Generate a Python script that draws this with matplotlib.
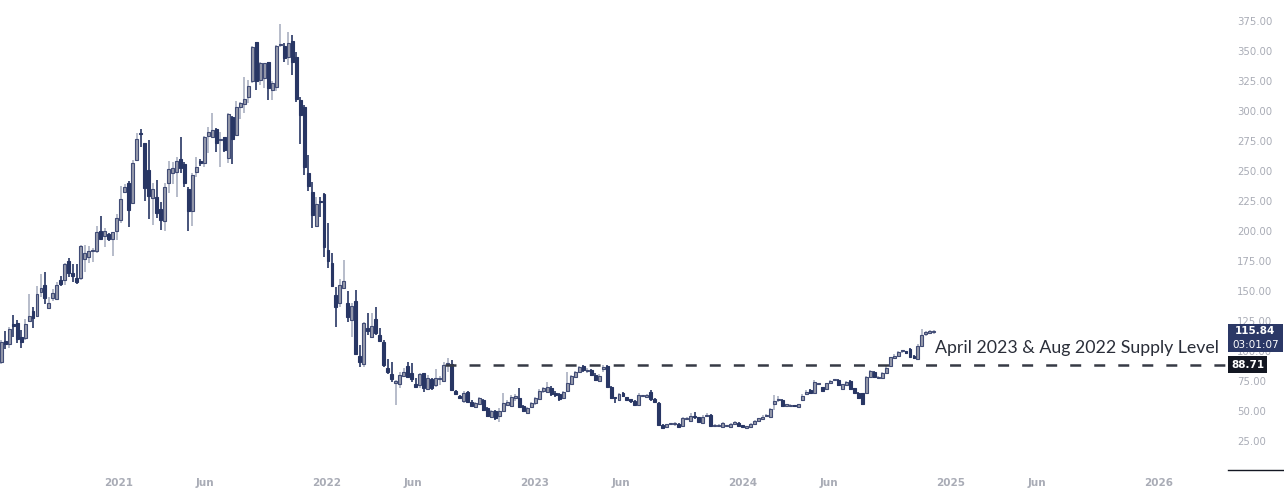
import matplotlib
matplotlib.use('Agg')
import matplotlib.pyplot as plt
import numpy as np
import pandas as pd
from matplotlib.patches import Rectangle

# ---------------- data (weekly candles) ----------------
start_week = '2020-06-08'
opens = [91.1, 108.3, 105.6, 122.5, 123.0, 111.9, 110.5, 125.3, 133.3, 129.4,
         148.9, 154.7, 136.0, 144.4, 143.0, 159.2, 158.9, 175.0, 165.3, 160.8,
         160.5, 176.4, 178.6, 183.3, 183.3, 200.3, 195.8, 197.5, 193.6, 200.3,
         209.2, 232.5, 239.7, 223.0, 259.2, 281.8, 273.0, 250.8, 227.2, 228.0,
         218.3, 208.3, 239.7, 248.0, 249.4, 259.7, 255.8, 234.7, 216.9, 249.4,
         257.2, 256.4, 279.2, 278.6, 285.0, 275.8, 278.0, 260.6, 294.7, 280.0,
         303.0, 305.8, 312.0, 325.0, 357.8, 325.8, 327.2, 340.5, 317.5, 320.3,
         355.0, 354.2, 345.3, 358.0, 344.7, 309.2, 303.0, 248.0, 232.2, 204.4,
         224.4, 230.8, 184.2, 173.0, 146.7, 139.7, 152.2, 139.7, 125.8, 141.7,
         95.8, 89.2, 119.4, 111.9, 126.4, 113.3, 107.8, 85.6, 80.8, 73.1,
         72.5, 79.2, 87.5, 81.4, 72.5, 71.7, 81.4, 68.1, 76.4, 71.7,
         76.4, 75.3, 88.9, 89.2, 66.7, 62.5, 58.6, 66.1, 57.8, 53.6,
         55.8, 59.2, 52.2, 44.7, 50.3, 45.8, 50.3, 55.0, 54.4, 61.2,
         60.6, 54.2, 48.6, 53.6, 56.4, 60.0, 67.0, 66.1, 69.4, 65.3,
         63.9, 60.6, 67.0, 72.5, 78.0, 82.8, 87.5, 83.3, 84.2, 80.0,
         75.3, 85.3, 87.8, 70.3, 60.8, 59.2, 64.7, 61.4, 58.8, 58.3,
         55.0, 62.3, 61.4, 66.1, 59.7, 56.9, 38.3, 37.0, 39.0, 39.0,
         39.2, 37.5, 43.1, 42.0, 44.9, 44.7, 40.3, 45.6, 46.7, 37.6,
         37.3, 36.9, 37.6, 36.4, 39.2, 40.3, 38.3, 36.2, 36.4, 39.2,
         41.9, 43.3, 45.6, 45.3, 55.5, 59.0, 59.2, 54.5, 54.2, 54.4,
         53.6, 59.2, 63.9, 67.5, 64.7, 72.3, 69.7, 68.1, 73.1, 75.6,
         75.8, 68.1, 71.7, 75.3, 68.9, 65.3, 64.7, 65.3, 78.6, 82.8,
         77.2, 77.2, 81.9, 87.8, 93.9, 96.1, 99.8, 99.4, 101.4, 95.8,
         93.3, 104.2, 114.5, 115.4, 115.6]
highs = [109.0, 116.7, 120.3, 130.0, 125.8, 117.5, 126.4, 147.5, 136.4, 154.4,
         163.9, 165.5, 145.3, 151.4, 157.5, 162.5, 173.1, 177.2, 172.5, 172.8,
         188.3, 188.3, 187.5, 185.6, 204.2, 212.5, 202.2, 198.6, 198.9, 214.2,
         237.5, 239.2, 242.0, 259.2, 282.0, 285.0, 273.0, 275.8, 240.3, 242.5,
         224.4, 239.7, 258.6, 257.8, 261.9, 278.1, 257.8, 237.0, 248.1, 261.4,
         259.7, 279.4, 286.4, 298.1, 285.6, 282.2, 278.6, 298.1, 295.8, 308.6,
         307.8, 328.6, 325.8, 354.2, 357.8, 341.1, 339.7, 340.5, 325.0, 355.0,
         372.5, 356.4, 366.1, 363.3, 349.4, 312.0, 305.0, 263.3, 241.1, 228.6,
         228.6, 231.4, 206.4, 181.4, 153.6, 159.7, 175.8, 150.3, 139.7, 150.8,
         105.0, 124.4, 131.4, 131.4, 136.4, 118.9, 109.2, 93.3, 91.1, 75.8,
         82.8, 85.6, 91.1, 90.3, 77.2, 81.9, 81.9, 80.0, 77.2, 84.7,
         79.2, 91.1, 93.9, 92.5, 67.5, 63.6, 66.9, 66.9, 59.2, 57.5,
         61.9, 59.7, 53.6, 50.8, 50.8, 52.2, 65.3, 59.2, 63.3, 64.2,
         68.9, 55.0, 53.6, 57.8, 61.9, 68.3, 70.3, 74.4, 70.8, 66.9,
         65.3, 66.7, 82.2, 80.0, 83.3, 87.5, 88.3, 85.6, 84.7, 81.9,
         80.8, 88.3, 88.3, 70.8, 61.9, 65.3, 66.1, 61.9, 59.2, 59.2,
         64.7, 63.3, 64.0, 67.5, 60.6, 57.8, 39.2, 39.4, 39.7, 41.1,
         39.7, 44.7, 45.3, 48.6, 49.4, 45.3, 46.7, 48.1, 47.2, 38.9,
         39.2, 40.8, 38.6, 39.7, 41.9, 40.8, 38.6, 37.2, 39.7, 42.5,
         44.4, 46.7, 47.2, 52.2, 63.3, 62.5, 59.7, 55.8, 55.5, 55.3,
         56.1, 63.9, 67.5, 68.1, 75.8, 73.6, 70.3, 73.6, 75.8, 76.7,
         76.4, 72.8, 75.0, 75.8, 69.4, 65.8, 65.3, 79.4, 84.2, 83.3,
         79.4, 82.2, 87.5, 95.3, 97.2, 100.3, 101.1, 100.3, 102.2, 96.4,
         105.8, 118.3, 116.7, 117.5, 117.8]
lows = [89.5, 101.4, 102.2, 112.0, 106.4, 102.2, 109.2, 125.3, 118.9, 128.6,
        145.3, 138.9, 135.0, 141.9, 142.5, 154.2, 155.0, 161.9, 157.8, 155.8,
        159.0, 166.1, 173.6, 174.4, 181.4, 193.6, 186.9, 191.9, 179.4, 192.5,
        206.4, 231.4, 203.6, 222.5, 258.6, 270.3, 225.3, 209.7, 205.0, 210.6,
        200.8, 200.3, 231.4, 239.2, 228.6, 248.6, 237.0, 200.3, 204.4, 245.3,
        254.4, 253.6, 265.3, 278.1, 266.1, 253.6, 266.1, 256.4, 255.8, 280.0,
        293.1, 298.1, 307.0, 323.1, 317.5, 321.7, 318.9, 309.2, 309.2, 317.0,
        353.6, 341.1, 338.3, 330.0, 307.8, 272.2, 246.7, 233.6, 202.2, 203.6,
        211.4, 178.6, 168.9, 153.6, 120.3, 137.0, 152.2, 124.4, 111.9, 96.7,
        87.0, 87.0, 113.3, 110.6, 113.3, 107.8, 87.0, 80.8, 74.4, 55.0,
        68.9, 78.6, 77.2, 74.4, 68.9, 68.9, 66.1, 67.5, 67.5, 69.7,
        71.7, 74.4, 82.8, 67.5, 63.6, 59.7, 57.0, 56.4, 53.6, 52.2,
        55.0, 50.3, 45.3, 43.9, 42.5, 41.1, 49.4, 54.2, 53.6, 58.6,
        53.6, 49.4, 48.1, 52.2, 55.0, 59.2, 64.7, 64.7, 62.8, 61.9,
        58.6, 59.7, 66.1, 71.7, 77.2, 81.9, 82.8, 81.4, 79.2, 75.3,
        74.4, 82.8, 69.7, 60.0, 56.4, 58.6, 61.9, 58.6, 57.0, 54.4,
        54.4, 61.4, 61.0, 58.6, 56.4, 38.3, 35.6, 36.4, 38.3, 37.5,
        35.6, 36.4, 42.5, 41.1, 43.1, 39.7, 39.7, 44.7, 36.9, 36.9,
        36.4, 36.4, 36.9, 35.8, 38.3, 37.2, 35.6, 35.3, 35.8, 38.9,
        41.4, 42.5, 44.7, 44.7, 50.8, 57.8, 53.3, 53.6, 53.3, 53.3,
        53.1, 58.6, 63.3, 64.2, 64.2, 71.4, 66.4, 67.5, 72.5, 74.7,
        71.1, 67.5, 71.1, 67.5, 64.7, 60.0, 55.0, 64.7, 78.1, 77.5,
        76.4, 76.7, 81.4, 87.2, 93.3, 95.6, 98.3, 97.8, 94.7, 93.3,
        92.8, 103.6, 112.5, 113.9, 114.4]
closes = [107.2, 105.6, 118.3, 120.8, 109.7, 107.2, 122.2, 129.2, 127.2, 147.2,
          152.4, 144.4, 139.7, 148.0, 155.3, 155.8, 172.2, 165.3, 162.8, 157.8,
          187.5, 181.4, 183.3, 183.6, 198.9, 193.6, 200.3, 193.6, 198.9, 210.8,
          226.4, 236.9, 217.5, 256.9, 276.4, 280.6, 235.5, 229.4, 235.0, 215.3,
          209.2, 236.9, 251.4, 252.2, 258.3, 252.2, 240.3, 216.9, 246.7, 253.1,
          257.0, 278.1, 282.2, 284.2, 273.6, 276.1, 267.5, 297.2, 276.4, 303.0,
          306.4, 309.7, 320.8, 353.0, 325.3, 339.7, 339.7, 319.4, 323.0, 354.4,
          355.3, 343.9, 357.0, 341.1, 310.0, 296.7, 253.6, 237.8, 213.3, 222.5,
          224.0, 186.9, 175.0, 154.2, 136.4, 155.0, 158.3, 128.0, 137.8, 97.5,
          91.1, 123.1, 116.7, 121.0, 114.7, 108.6, 88.3, 82.8, 76.4, 75.3,
          80.0, 82.8, 78.6, 76.4, 70.3, 80.8, 68.9, 77.2, 68.9, 77.2,
          77.8, 88.3, 89.2, 67.5, 63.9, 60.6, 64.7, 57.8, 54.4, 56.4,
          60.6, 50.8, 45.8, 50.0, 43.9, 50.0, 56.9, 57.8, 61.4, 61.4,
          53.6, 50.0, 52.2, 56.4, 60.6, 66.7, 69.0, 70.3, 64.2, 63.3,
          60.0, 65.6, 73.0, 79.2, 82.2, 87.0, 84.2, 83.6, 80.0, 75.8,
          79.2, 85.6, 70.3, 60.6, 60.6, 64.2, 62.5, 59.2, 58.6, 55.0,
          63.3, 62.5, 63.3, 59.7, 57.2, 38.3, 36.1, 38.9, 39.2, 39.2,
          36.4, 43.9, 43.3, 45.8, 44.7, 40.6, 45.3, 45.8, 37.5, 37.8,
          37.5, 40.3, 37.8, 39.2, 41.1, 37.8, 36.4, 36.4, 39.2, 41.9,
          43.9, 45.3, 45.8, 51.4, 58.3, 59.2, 54.2, 54.7, 54.4, 54.2,
          55.5, 62.8, 66.1, 64.7, 74.4, 72.5, 67.0, 73.1, 75.3, 75.8,
          71.7, 72.2, 74.4, 68.1, 65.3, 60.6, 55.8, 78.6, 83.3, 78.1,
          78.6, 81.4, 86.1, 94.7, 96.1, 99.4, 100.0, 98.6, 95.3, 93.9,
          104.2, 113.3, 114.7, 115.6, 115.84]

last_price = 115.84
countdown = '03:01:07'
supply_level = 88.71
supply_start = '2022-07-28'
annotation = 'April 2023 & Aug 2022 Supply Level'
ytick_values = [25, 50, 75, 100, 125, 150, 175, 200, 225, 250, 275, 300, 325, 350, 375]
xtick_dates = ['2021-01-01', '2021-06-01', '2022-01-01', '2022-06-01', '2023-01-01',
               '2023-06-01', '2024-01-01', '2024-06-01', '2025-01-01', '2025-06-01',
               '2026-01-01']
xtick_labels = ['2021', 'Jun', '2022', 'Jun', '2023', 'Jun', '2024', 'Jun', '2025', 'Jun', '2026']

# ---------------- style ----------------
DOWN = '#283664'
UP_FILL = '#979bab'
UP_EDGE = '#414c76'
UP_WICK = '#aab0c1'
AXIS_TXT = '#a9acb6'

plt.rcParams['lines.scale_dashes'] = False
W, H = 1284, 490
fig = plt.figure(figsize=(W / 100, H / 100), dpi=100)
fig.patch.set_facecolor('white')
ax = fig.add_axes([0, 20 / H, 1226 / W, 470 / H])
ax.set_facecolor('white')

dates = pd.date_range(start_week, periods=len(closes), freq='7D')
xn = np.array([pd.Timestamp(d).toordinal() for d in dates], dtype=float)
o = np.array(opens); h = np.array(highs); l = np.array(lows); c = np.array(closes)
up = c >= o

# wicks
ax.vlines(xn[up], l[up], h[up], color=UP_WICK, lw=1.2, zorder=2)
ax.vlines(xn[~up], l[~up], h[~up], color=DOWN, lw=1.2, zorder=2)

# bodies
bottom = np.minimum(o, c)
height = np.maximum(np.abs(c - o), 1.0)
ax.bar(xn[up], height[up], bottom=bottom[up], width=5.2, color=UP_FILL,
       edgecolor=UP_EDGE, linewidth=0.8, zorder=3)
ax.bar(xn[~up], height[~up], bottom=bottom[~up], width=5.2, color=DOWN,
       edgecolor=DOWN, linewidth=0.8, zorder=3)

# axes ranges (pixel-calibrated)
ref = pd.Timestamp('2021-01-01').toordinal()
px_per_day = 208 / 365.25
x_left = ref - 119 / px_per_day
x_right = ref + (1226 - 119) / px_per_day
ax.set_xlim(x_left, x_right)
ax.set_ylim(375 - 449 / 1.2, 375 + 21 / 1.2)

# supply level dashed line
xs = pd.Timestamp(supply_start).toordinal()
ax.plot([xs, x_right], [supply_level, supply_level], color='#363a45', lw=1.8,
        dashes=(7.9, 9.4), zorder=4, solid_capstyle='butt', dash_capstyle='butt')

for s in ax.spines.values():
    s.set_visible(False)

ax.yaxis.tick_right()
ax.set_yticks(ytick_values)
ax.set_yticklabels([f'{v:.2f}' for v in ytick_values])
ax.tick_params(axis='y', length=0, pad=8, labelsize=7.3, labelcolor=AXIS_TXT)
ax.set_xticks([pd.Timestamp(d).toordinal() for d in xtick_dates])
ax.set_xticklabels(xtick_labels)
ax.tick_params(axis='x', length=0, pad=6, labelsize=7.5, labelcolor=AXIS_TXT)
for t in ax.get_xticklabels():
    t.set_fontweight('bold')

# annotation text
fig.text(935 / W, 1 - 348 / H, annotation, fontsize=12.75, family='Lato',
         color='#2a2e39', va='center', ha='left')

# price boxes
def fig_rect(x0, y0, x1, y1, color):
    fig.patches.append(Rectangle((x0 / W, 1 - y1 / H), (x1 - x0) / W, (y1 - y0) / H,
                                 transform=fig.transFigure, facecolor=color,
                                 edgecolor='none', zorder=10))

fig_rect(1228, 324, 1283, 352, '#2b3866')
fig.text(1255.5 / W, 1 - 331.5 / H, f'{last_price:.2f}', color='white', fontsize=7.5,
         fontweight='bold', ha='center', va='center', zorder=11)
fig.text(1255.5 / W, 1 - 344.5 / H, countdown, color='white', fontsize=7.5,
         ha='center', va='center', zorder=11)
fig_rect(1228, 356, 1267, 373, '#131722')
fig.text(1247.5 / W, 1 - 364.5 / H, f'{supply_level:.2f}', color='white', fontsize=7.5,
         fontweight='bold', ha='center', va='center', zorder=11)

# bottom-right corner line
fig.add_artist(plt.Line2D([1228 / W, 1], [1 - 469.5 / H, 1 - 469.5 / H],
                          transform=fig.transFigure, color='#131722', lw=1))

fig.savefig('out.png', dpi=100)
